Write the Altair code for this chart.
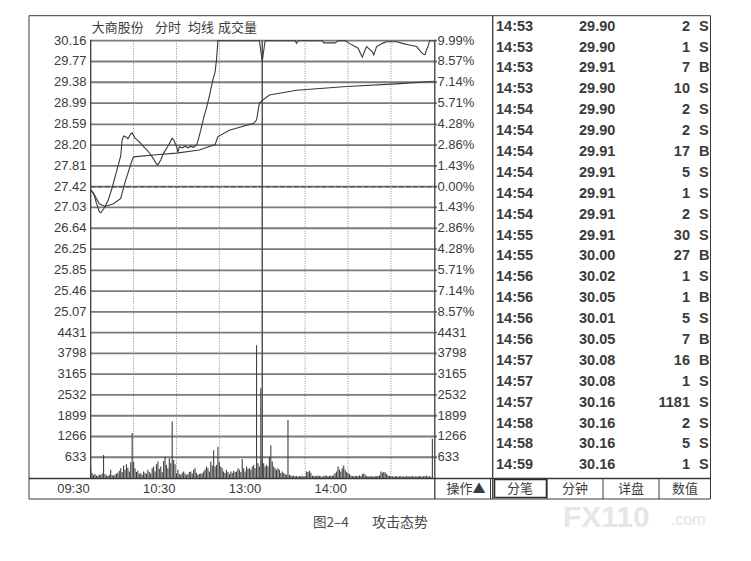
import altair as alt
import pandas as pd

# ---------------- data ----------------
# price track: minutes after 09:30 (trading minutes only) and last price
price_t = [0, 2, 4, 6, 7, 9, 12, 15, 18, 21, 22, 23, 25, 26, 28, 29, 31, 34, 37, 40,
           43, 46, 47, 49, 51, 54, 57, 58, 60, 61, 62, 64, 66, 68, 70, 72, 74, 75, 77, 79,
           81, 83, 85, 86, 87, 88, 89, 118, 120, 122, 143, 144, 145, 162, 163, 171, 173, 178, 181, 187,
           190, 192, 193, 197, 198, 200, 204, 207, 214, 218, 223, 228, 231, 233, 234, 235, 236, 237, 240]
price_v = [27.36, 27.30, 27.11, 26.95, 26.93, 27.00, 27.15, 27.40, 27.70, 28.00, 28.30, 28.37, 28.35, 28.32, 28.41, 28.43, 28.33, 28.26, 28.17, 28.09,
           27.98, 27.85, 27.83, 27.92, 28.05, 28.18, 28.33, 28.30, 28.18, 28.07, 28.17, 28.15, 28.18, 28.15, 28.18, 28.16, 28.20, 28.28, 28.48, 28.71,
           28.90, 29.12, 29.37, 29.48, 29.57, 29.80, 30.16, 30.16, 29.77, 30.16, 30.16, 30.11, 30.16, 30.16, 30.12, 30.12, 30.16, 30.16, 30.11, 30.02,
           29.85, 29.99, 30.05, 29.95, 29.89, 30.05, 30.11, 30.14, 30.14, 30.11, 30.08, 30.05, 29.95, 29.90, 29.90, 30.00, 30.05, 30.16, 30.16]

# average price line
avg_t = [0, 3, 6, 10, 16, 21, 24, 29, 30, 46, 60, 76, 87, 89, 97, 114, 116, 118, 121, 125, 144, 179, 214, 240]
avg_v = [27.36, 27.25, 27.10, 27.05, 27.10, 27.20, 27.50, 27.92, 27.98, 28.02, 28.05, 28.11, 28.21, 28.36, 28.48, 28.61, 28.67, 28.99, 29.06, 29.14, 29.23, 29.30, 29.35, 29.40]

# volume per minute (lots), one value per trading minute
volume = (
    [320, 150, 90, 120, 80, 60, 110, 90, 140, 700, 120, 80, 60, 100, 250,
     90, 70, 110, 130, 160, 220, 300, 180, 380, 260, 420, 310, 200, 480, 1370]
    + [490, 300, 180, 220, 120, 150, 90, 200, 160, 130, 250, 180, 140, 300, 350,
       200, 420, 500, 280, 350, 180, 520, 650, 400, 300, 600, 450, 1720, 550, 420]
    + [150, 250, 120, 100, 160, 200, 140, 90, 120, 180, 200, 140, 250, 300, 160,
       100, 120, 140, 140, 200, 260, 350, 300, 200, 500, 380, 850, 350, 400, 950]
    + [480, 350, 300, 200, 150, 250, 180, 120, 200, 150, 220, 180, 200, 300, 250,
       180, 580, 300, 200, 350, 280, 300, 250, 350, 400, 300, 4050, 450, 350, 2740]
    + [500, 450, 350, 400, 350, 650, 1000, 500, 350, 300, 250, 300, 250, 150, 200,
       150, 120, 100, 1770, 100, 80, 60, 80, 50, 60, 40, 60, 50, 70, 40]
    + [60, 200, 180, 220, 160, 80, 60, 70, 50, 80, 60, 50, 40, 60, 80,
       70, 50, 60, 80, 60, 100, 150, 200, 350, 260, 200, 300, 380, 250, 180]
    + [150, 120, 80, 60, 50, 70, 60, 50, 80, 60, 120, 140, 100, 60, 50,
       40, 60, 50, 40, 60, 50, 60, 80, 200, 160, 180, 170, 120, 80, 60]
    + [60, 50, 40, 60, 50, 40, 50, 60, 40, 50, 40, 60, 50, 40, 50,
       60, 40, 50, 40, 50, 60, 50, 40, 60, 50, 80, 40, 60, 30, 1198]
)

# axis ticks
price_ticks = [30.16, 29.77, 29.38, 28.99, 28.59, 28.20, 27.81, 27.42, 27.03, 26.64, 26.25, 25.85, 25.46, 25.07]
pct_labels = ["9.99%", "8.57%", "7.14%", "5.71%", "4.28%", "2.86%", "1.43%", "0.00%",
              "1.43%", "2.86%", "4.28%", "5.71%", "7.14%", "8.57%"]
vol_ticks = [4431, 3798, 3165, 2532, 1899, 1266, 633]
grid_minutes = [30, 60, 90, 150, 180, 210]
noon_minute = [120]
time_ticks = [0, 60, 120, 180]
time_labels = ["09:30", "10:30", "13:00", "14:00"]

# tick-by-tick trade list
trade_time = ["14:53"] * 4 + ["14:54"] * 6 + ["14:55"] * 2 + ["14:56"] * 4 + ["14:57"] * 3 + ["14:58"] * 2 + ["14:59"]
trade_price = ["29.90", "29.90", "29.91", "29.90", "29.90", "29.90", "29.91", "29.91", "29.91", "29.91", "29.91",
               "30.00", "30.02", "30.05", "30.01", "30.05", "30.08", "30.08", "30.16", "30.16", "30.16", "30.16"]
trade_vol = [2, 1, 7, 10, 2, 2, 17, 5, 1, 2, 30, 27, 1, 1, 5, 7, 16, 1, 1181, 2, 5, 1]
trade_side = ["S", "S", "B", "S", "S", "S", "B", "S", "S", "S", "S", "B", "S", "B", "S", "B", "B", "S", "S", "S", "S", "S"]

# ---------------- styling / layout ----------------
W, H = 751, 561
LINE = "#3a3a3a"
GRID = "#7a7a7a"
TXT = "#3c3c3c"
NUM_FONT = "Liberation Sans"
CJK_FONT = "Noto Sans CJK SC"

PX_L, PX_R = 90.7, 433.8          # plot area left/right
PY_T, PY_B = 40.7, 311.9          # price band 30.16 .. 25.07
VY_T, VY_B = 332.7, 478.0         # volume band 4431 .. 0

tx = alt.Scale(domain=[0, 240], range=[PX_L, PX_R])
py = alt.Scale(domain=[25.07, 30.16], range=[PY_B, PY_T])
vy = alt.Scale(domain=[0, 4431], range=[VY_B, VY_T])
rowy = alt.Scale(domain=[0, 21], range=[26.7, 465.3])

one = pd.DataFrame({"k": [0]})


def hline(y, x1, x2, color=LINE, w=1.0, dash=None):
    kw = dict(color=color, strokeWidth=w)
    if dash:
        kw["strokeDash"] = dash
    return alt.Chart(one).mark_rule(**kw).encode(x=alt.value(x1), x2=alt.value(x2), y=alt.value(y))


def vline(x, y1, y2, color=LINE, w=1.0, dash=None):
    kw = dict(color=color, strokeWidth=w)
    if dash:
        kw["strokeDash"] = dash
    return alt.Chart(one).mark_rule(**kw).encode(x=alt.value(x), y=alt.value(y1), y2=alt.value(y2))


def label(text, x, y, size=13, align="left", font=CJK_FONT, color=TXT, weight="normal"):
    return alt.Chart(one).mark_text(
        text=text, align=align, baseline="middle", font=font, fontSize=size,
        color=color, fontWeight=weight
    ).encode(x=alt.value(x), y=alt.value(y))


layers = []

# --- price grid & labels ---
pgrid = pd.DataFrame({"p": price_ticks, "pct": pct_labels})
layers.append(alt.Chart(pgrid).mark_rule(color=GRID, strokeWidth=1.8).encode(
    y=alt.Y("p:Q", scale=py, axis=None), x=alt.value(PX_L), x2=alt.value(437)))
layers.append(alt.Chart(pgrid).mark_text(
    align="right", baseline="middle", font=NUM_FONT, fontSize=13, color=TXT).encode(
    y=alt.Y("p:Q", scale=py, axis=None), x=alt.value(86.5), text=alt.Text("p:Q", format=".2f")))
layers.append(alt.Chart(pgrid).mark_text(
    align="left", baseline="middle", font=NUM_FONT, fontSize=13, color=TXT).encode(
    y=alt.Y("p:Q", scale=py, axis=None), x=alt.value(437.5), text="pct:N"))
# previous close line
layers.append(alt.Chart(pd.DataFrame({"p": [27.42]})).mark_rule(
    color="#555555", strokeWidth=1.6, strokeDash=[5, 2]).encode(
    y=alt.Y("p:Q", scale=py, axis=None), x=alt.value(PX_L), x2=alt.value(437)))

# --- volume grid & labels ---
vgrid = pd.DataFrame({"v": vol_ticks})
layers.append(alt.Chart(vgrid).mark_rule(color=GRID, strokeWidth=1.8).encode(
    y=alt.Y("v:Q", scale=vy, axis=None), x=alt.value(PX_L), x2=alt.value(437)))
layers.append(alt.Chart(vgrid).mark_text(
    align="right", baseline="middle", font=NUM_FONT, fontSize=13, color=TXT).encode(
    y=alt.Y("v:Q", scale=vy, axis=None), x=alt.value(86.5), text="v:Q"))
layers.append(alt.Chart(vgrid).mark_text(
    align="left", baseline="middle", font=NUM_FONT, fontSize=13, color=TXT).encode(
    y=alt.Y("v:Q", scale=vy, axis=None), x=alt.value(437.5), text="v:Q"))

# --- vertical time grid ---
layers.append(alt.Chart(pd.DataFrame({"t": grid_minutes})).mark_rule(
    color="#8a8a8a", strokeWidth=1, strokeDash=[1, 1.5]).encode(
    x=alt.X("t:Q", scale=tx, axis=None), y=alt.value(PY_T), y2=alt.value(VY_B)))
layers.append(alt.Chart(pd.DataFrame({"t": noon_minute})).mark_rule(
    color="#4a4a4a", strokeWidth=1.4).encode(
    x=alt.X("t:Q", scale=tx, axis=None), y=alt.value(PY_T), y2=alt.value(VY_B)))
layers.append(alt.Chart(pd.DataFrame({"t": time_ticks, "lab": time_labels})).mark_text(
    align="right", baseline="middle", font=NUM_FONT, fontSize=13, color=TXT, dx=-1).encode(
    x=alt.X("t:Q", scale=tx, axis=None), y=alt.value(488.5), text="lab:N"))

# --- volume bars ---
vol_df = pd.DataFrame({"t": list(range(len(volume))), "v": volume})
layers.append(alt.Chart(vol_df).mark_rule(color="#404040", strokeWidth=1.1).encode(
    x=alt.X("t:Q", scale=tx, axis=None),
    y=alt.Y("v:Q", scale=vy, axis=None),
    y2=alt.datum(0)))

# --- average and price lines ---
layers.append(alt.Chart(pd.DataFrame({"t": avg_t, "p": avg_v})).mark_line(
    color=LINE, strokeWidth=1.1).encode(
    x=alt.X("t:Q", scale=tx, axis=None), y=alt.Y("p:Q", scale=py, axis=None)))
layers.append(alt.Chart(pd.DataFrame({"t": price_t, "p": price_v})).mark_line(
    color=LINE, strokeWidth=1.1).encode(
    x=alt.X("t:Q", scale=tx, axis=None), y=alt.Y("p:Q", scale=py, axis=None)))

# --- trade list ---
trades = pd.DataFrame({
    "row": list(range(len(trade_time))), "time": trade_time, "price": trade_price,
    "vol": trade_vol, "side": trade_side,
})
tab_style = dict(baseline="middle", font=NUM_FONT, fontSize=14.5, fontWeight="bold", color="#3a3a3a")
layers.append(alt.Chart(trades).mark_text(align="left", **tab_style).encode(
    y=alt.Y("row:Q", scale=rowy, axis=None), x=alt.value(496), text="time:N"))
layers.append(alt.Chart(trades).mark_text(align="left", **tab_style).encode(
    y=alt.Y("row:Q", scale=rowy, axis=None), x=alt.value(579), text="price:N"))
layers.append(alt.Chart(trades).mark_text(align="right", **tab_style).encode(
    y=alt.Y("row:Q", scale=rowy, axis=None), x=alt.value(690), text="vol:Q"))
layers.append(alt.Chart(trades).mark_text(align="left", **tab_style).encode(
    y=alt.Y("row:Q", scale=rowy, axis=None), x=alt.value(699), text="side:N"))

# --- frame ---
FL, FR, FT, FB = 29, 710.5, 15.7, 499
layers += [
    hline(FT, FL, FR), hline(FB, FL, FR),
    vline(FL, FT, FB), vline(FR, FT, FB),
    vline(PX_L, PY_T - 1, VY_B, w=1.3),
    vline(434.8, PY_T - 1, FB, w=1.3),
    hline(478.5, FL, FR, w=1.3),
    vline(490.5, 478.5, FB),
    vline(492.7, FT, FB, w=1.3),
    vline(547, 478.5, FB), vline(603, 478.5, FB), vline(659, 478.5, FB),
]
# active tab outline
layers.append(alt.Chart(one).mark_rect(fill="white", stroke="#2e2e2e", strokeWidth=1.6).encode(
    x=alt.value(494.5), x2=alt.value(546.5), y=alt.value(479.5), y2=alt.value(497.5)))

# --- texts ---
layers += [
    label("大商股份", 91.7, 28),
    label("分时", 155, 28),
    label("均线", 188, 28),
    label("成交量", 218, 28),
    label("操作▲", 466, 488.5, align="center"),
    label("分笔", 520, 488.5, align="center"),
    label("分钟", 575, 488.5, align="center"),
    label("详盘", 631, 488.5, align="center"),
    label("数值", 685, 488.5, align="center"),
    label("图2–4", 313, 522.5, size=13.5, color="#4a4a4a"),
    label("攻击态势", 372, 522.5, size=14, color="#4a4a4a"),
    label("FX110", 563, 518, size=30, font=NUM_FONT, weight="bold", color="#e6e6e6"),
    label(".com", 671, 520, size=16, font=NUM_FONT, color="#e3e3e3"),
]

chart = (
    alt.layer(*layers)
    .resolve_scale(x="independent", y="independent")
    .properties(width=W, height=H, padding=0, autosize=alt.AutoSizeParams(type="none"),
                background="white")
    .configure_view(strokeWidth=0)
)

chart.save("out.html", embed_options={"renderer": "svg", "actions": False})
